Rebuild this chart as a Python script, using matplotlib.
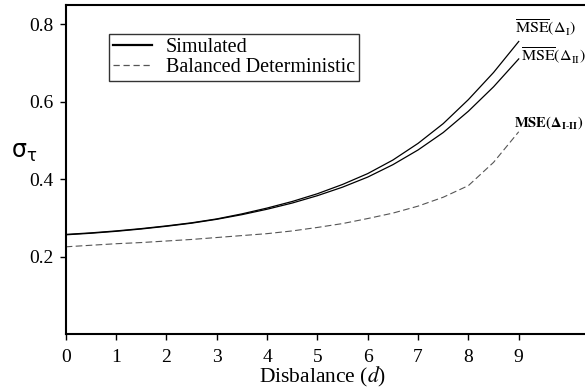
import matplotlib
matplotlib.use("Agg")
import matplotlib.pyplot as plt
from matplotlib.lines import Line2D

# d values and read-off curves
d = [0, 0.5, 1, 1.5, 2, 2.5, 3, 3.5, 4, 4.5, 5, 5.5, 6, 6.5, 7, 7.5, 8, 8.5, 9]
mse_1 = [0.257, 0.261, 0.266, 0.272, 0.279, 0.287, 0.297, 0.310, 0.325, 0.342,
         0.362, 0.386, 0.414, 0.449, 0.492, 0.543, 0.605, 0.675, 0.755]
mse_2 = [0.256, 0.260, 0.265, 0.271, 0.278, 0.286, 0.296, 0.308, 0.322, 0.338,
         0.357, 0.379, 0.405, 0.437, 0.475, 0.520, 0.575, 0.638, 0.710]
mse_12 = [0.225, 0.229, 0.233, 0.236, 0.240, 0.244, 0.249, 0.254, 0.259, 0.266,
          0.275, 0.285, 0.298, 0.312, 0.330, 0.353, 0.383, 0.443, 0.522]

xticks = list(range(10))
yticks = [0.2, 0.4, 0.6, 0.8]
legend_labels = ["Simulated", "Balanced Deterministic"]

plt.rcParams["font.family"] = "Liberation Serif"
plt.rcParams["mathtext.fontset"] = "stix"

fig = plt.figure(figsize=(5.85, 3.89), dpi=100)
ax = fig.add_axes([0.1123, 0.1414, 0.888, 0.8466])

ax.plot(d, mse_1, color="k", lw=0.9)
ax.plot(d, mse_2, color="k", lw=0.9)
ax.plot(d, mse_12, color="#555555", lw=0.8, ls=(0, (6, 3)))

ax.text(8.93, mse_1[-1] + 0.035, r"$\overline{\mathrm{MSE}}(\Delta_{\mathrm{I}})$",
        fontsize=11.5, va="center", ha="left")
ax.text(9.05, mse_2[-1] + 0.008, r"$\overline{\mathrm{MSE}}(\Delta_{\mathrm{II}})$",
        fontsize=11.5, va="center", ha="left")
ax.text(8.9, mse_12[-1] + 0.025, r"$\mathbf{MSE(\Delta_{I\text{-}II})}$",
        fontsize=10.5, va="center", ha="left")

handles = [Line2D([], [], color="k", lw=1.6),
           Line2D([], [], color="#555555", lw=0.9, ls=(0, (5, 3)))]
leg = ax.legend(handles, legend_labels, loc="upper left",
                bbox_to_anchor=(0.084, 0.91), fontsize=14.5, frameon=True,
                fancybox=False, edgecolor="k", borderpad=0.2,
                handlelength=1.9, handletextpad=0.7, labelspacing=0.02,
                borderaxespad=0)
leg.get_frame().set_linewidth(1.0)

ax.set_xlim(0, 10.32)
ax.set_ylim(0, 0.85)
ax.set_xticks(xticks)
ax.set_yticks(yticks)
ax.set_yticklabels([f"{v:.1f}" for v in yticks])
ax.tick_params(direction="out", length=4, width=1, top=False, right=False,
               labelsize=14)
ax.tick_params(axis="x", pad=7)
ax.tick_params(axis="y", pad=5)

ax.spines["right"].set_visible(False)
for s in ("left", "bottom", "top"):
    ax.spines[s].set_linewidth(1.5)

ax.set_xlabel(r"Disbalance ($d$)", fontsize=15.5)
ax.xaxis.label.set_va("center")
ax.xaxis.set_label_coords(0.495, -0.131)
ax.set_ylabel(r"$\mathrm{\sigma}_{\mathrm{\tau}}$", fontsize=17, rotation=0,
              math_fontfamily="dejavusans")
ax.yaxis.label.set_va("center")
ax.yaxis.set_label_coords(-0.08, 0.55)

fig.savefig("out.png", dpi=100)
